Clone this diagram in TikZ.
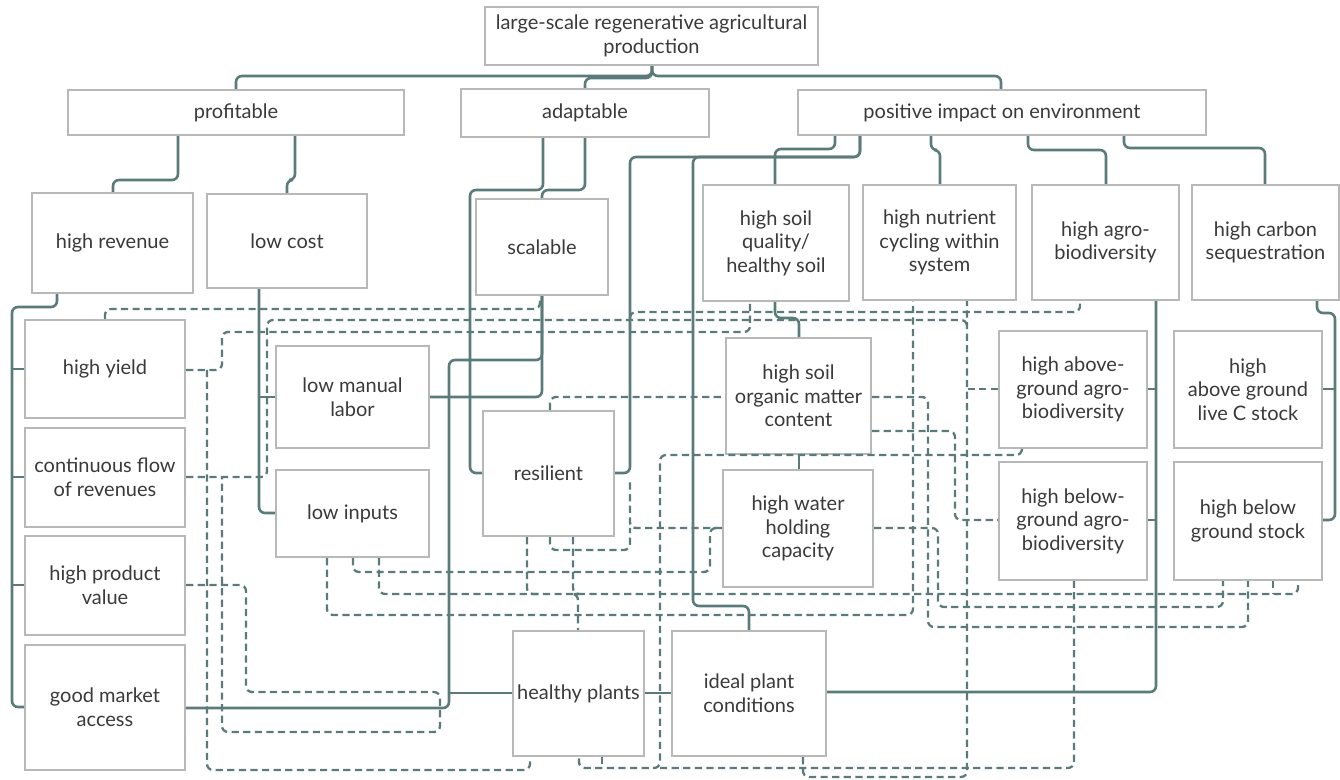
\documentclass[tikz,border=0pt]{standalone}
\usepackage{fontspec}
\setmainfont{Lato}
\definecolor{lc}{HTML}{5B7B7A}
\definecolor{bgray}{HTML}{B8B8B8}
\definecolor{txt}{HTML}{3A3A3A}
\begin{document}
\begin{tikzpicture}[x=0.5pt,y=-0.5pt]
\tikzset{
 box/.style={draw=bgray, line width=1.1pt, fill=white, inner sep=0pt, align=center, text=txt, font=\fontsize{10}{11.8}\selectfont},
 sl/.style={draw=lc, line width=1.3pt, rounded corners=3pt},
 dl/.style={draw=lc, line width=1.15pt, rounded corners=3pt, dash pattern=on 3.6pt off 2.2pt},
}
\newcommand{\bx}[6]{\node[box, minimum width=#4*0.5pt, minimum height=#5*0.5pt] (#1) at (#2,#3) {#6};}
\useasboundingbox (0,0) rectangle (1340,780);
\fill[white] (0,0) rectangle (1340,780);
% boxes
\bx{root}{651.5}{36}{333}{58}{large-scale regenerative agricultural\\production}
\bx{prof}{236}{112.5}{336}{45}{profitable}
\bx{adapt}{585}{113}{248}{48}{adaptable}
\bx{env}{1002}{112.5}{408}{45}{positive impact on environment}
\bx{rev}{112.5}{243}{161}{100}{high revenue}
\bx{cost}{287}{241}{160}{94}{low cost}
\bx{scal}{542}{247}{132}{96}{scalable}
\bx{soil}{776}{243}{146}{116}{high soil\\quality/\\healthy soil}
\bx{nutr}{939.5}{242.5}{153}{115}{high nutrient\\cycling within\\system}
\bx{agro}{1105.5}{242.5}{147}{115}{high agro-\\biodiversity}
\bx{carb}{1265.5}{242.5}{147}{115}{high carbon\\sequestration}
\bx{hy}{105}{369}{160}{98}{high yield}
\bx{cf}{105}{477.5}{160}{99}{continuous flow\\of revenues}
\bx{pv}{105}{585.5}{160}{99}{high product\\value}
\bx{gm}{105}{707.5}{160}{125}{good market\\access}
\bx{lml}{352.5}{397}{153}{102}{low manual\\labor}
\bx{li}{352.5}{513.5}{153}{87}{low inputs}
\bx{res}{548.5}{473.5}{131}{125}{resilient}
\bx{som}{798.5}{396}{145}{116}{high soil\\organic matter\\content}
\bx{whc}{798}{528.5}{150}{117}{high water\\holding\\capacity}
\bx{ag1}{1073}{389.5}{148}{117}{high above-\\ground agro-\\biodiversity}
\bx{bg1}{1073}{521}{148}{118}{high below-\\ground agro-\\biodiversity}
\bx{cs1}{1248}{389.5}{148}{117}{high\\above ground\\live C stock}
\bx{cs2}{1248}{521}{148}{118}{high below\\ground stock}
\bx{hp}{578.5}{693.5}{131}{125}{healthy plants}
\bx{ipc}{749}{693.5}{154}{125}{ideal plant\\conditions}
% solid tree connectors
\draw[sl] (root.south -| 652,0) -- (652,76) -- (236,76) -- (prof.north -| 236,0);
\draw[sl] (root.south -| 652,0) -- (652,76) -- (1001,76) -- (env.north -| 1001,0);
\draw[sl] (root.south -| 652,0) -- (652,78) -- (585,78) -- (adapt.north -| 585,0);
\draw[sl] (prof.south -| 178,0) -- (178,180) -- (113,180) -- (rev.north -| 113,0);
\draw[sl] (prof.south -| 295,0) -- (295,180) -- (287,180) -- (cost.north -| 287,0);
\draw[sl] (adapt.south -| 585,0) -- (585,190) -- (542,190) -- (scal.north -| 542,0);
\draw[sl] (adapt.south -| 543,0) -- (543,190) -- (470,190) -- (470,473) -- (res.west |- 0,473);
\draw[sl] (env.south -| 835,0) -- (835,149) -- (775,149) -- (soil.north -| 775,0);
\draw[sl] (env.south -| 860,0) -- (860,157) -- (630,157) -- (630,473) -- (res.east |- 0,473);
\draw[sl] (env.south -| 860,0) -- (860,157) -- (693,157) -- (693,606) -- (749,606) -- (ipc.north -| 749,0);
\draw[sl] (env.south -| 931,0) -- (931,150) -- (940,150) -- (nutr.north -| 940,0);
\draw[sl] (env.south -| 1028,0) -- (1028,150) -- (1106,150) -- (agro.north -| 1106,0);
\draw[sl] (env.south -| 1124,0) -- (1124,148) -- (1265,148) -- (carb.north -| 1265,0);
\draw[sl] (rev.south -| 57,0) -- (57,307) -- (12,307) -- (12,707) -- (gm.west |- 0,707);
\draw[sl] (12,369) -- (hy.west |- 0,369);
\draw[sl] (12,477) -- (cf.west |- 0,477);
\draw[sl] (12,585) -- (pv.west |- 0,585);
\draw[sl] (cost.south -| 259,0) -- (259,513) -- (li.west |- 0,513);
\draw[sl] (lml.west |- 0,397) -- (259,397);
\draw[sl] (scal.south -| 542,0) -- (542,397) -- (lml.east |- 0,397);
\draw[sl] (gm.east |- 0,708) -- (449,708) -- (449,360) -- (542,360) -- (scal.south -| 542,0);
\draw[sl] (hp.west |- 0,693) -- (449,693);
\draw[sl] (hp.east |- 0,693) -- (ipc.west |- 0,693);
\draw[sl] (agro.south -| 1156,0) -- (1156,692) -- (ipc.east |- 0,692);
\draw[sl] (ag1.east |- 0,389) -- (1156,389);
\draw[sl] (bg1.east |- 0,520) -- (1156,520);
\draw[sl] (carb.south -| 1317,0) -- (1317,313) -- (1335,313) -- (1335,520) -- (cs2.east |- 0,520);
\draw[sl] (cs1.east |- 0,389) -- (1335,389);
\draw[sl] (soil.south -| 775,0) -- (775,318) -- (799,318) -- (som.north -| 799,0);
\draw[sl] (som.south -| 799,0) -- (whc.north -| 799,0);
% dashed cross links
\draw[dl] (hy.north -| 105,0) -- (105,309) -- (540,309) -- (scal.south -| 540,0);
\draw[dl] (hy.east |- 0,370) -- (222,370) -- (222,332) -- (750,332) -- (soil.south -| 750,0);
\draw[dl] (207,370) -- (207,770) -- (530,770) -- (hp.south -| 530,0);
\draw[dl] (cf.east |- 0,477) -- (267,477) -- (267,320) -- (967,320) -- (967,326);
\draw[dl] (pv.east |- 0,585) -- (246,585) -- (246,692) -- (440,692) -- (440,732) -- (222,732) -- (222,477);
\draw[dl] (li.south -| 327,0) -- (327,615) -- (913,615) -- (nutr.south -| 913,0);
\draw[dl] (li.south -| 353,0) -- (353,572) -- (710,572) -- (710,528) -- (whc.west |- 0,528);
\draw[dl] (li.south -| 379,0) -- (379,594) -- (1298,594) -- (cs2.south -| 1298,0);
\draw[dl] (cs2.south -| 1273,0) -- (1273,594);
\draw[dl] (res.south -| 527,0) -- (527,594) -- (540,594);
\draw[dl] (whc.west |- 0,528) -- (630,528) -- (630,480);
\draw[dl] (res.south -| 550,0) -- (550,550) -- (630,550) -- (630,528);
\draw[dl] (res.south -| 573,0) -- (573,594) -- (578,594) -- (hp.north -| 578,0);
\draw[dl] (res.north -| 550,0) -- (550,397) -- (som.west |- 0,397);
\draw[dl] (som.east |- 0,397) -- (928,397) -- (928,627) -- (1248,627) -- (cs2.south -| 1248,0);
\draw[dl] (som.east |- 0,431) -- (955,431) -- (955,520) -- (bg1.west |- 0,520);
\draw[dl] (ag1.south -| 1022,0) -- (1022,455) -- (660,455) -- (660,768) -- (579,768) -- (hp.south -| 579,0);
\draw[dl] (hp.south -| 602,0) -- (602,768);
\draw[dl] (660,768) -- (1074,768) -- (bg1.south -| 1074,0);
\draw[dl] (ipc.south -| 803,0) -- (803,777) -- (967,777) -- (nutr.south -| 967,0);
\draw[dl] (ag1.west |- 0,389) -- (967,389);
\draw[dl] (whc.east |- 0,528) -- (938,528) -- (938,607) -- (1223,607) -- (cs2.south -| 1223,0);
\draw[dl] (630,330) -- (630,312) -- (1080,312) -- (agro.south -| 1080,0);
\end{tikzpicture}
\end{document}
